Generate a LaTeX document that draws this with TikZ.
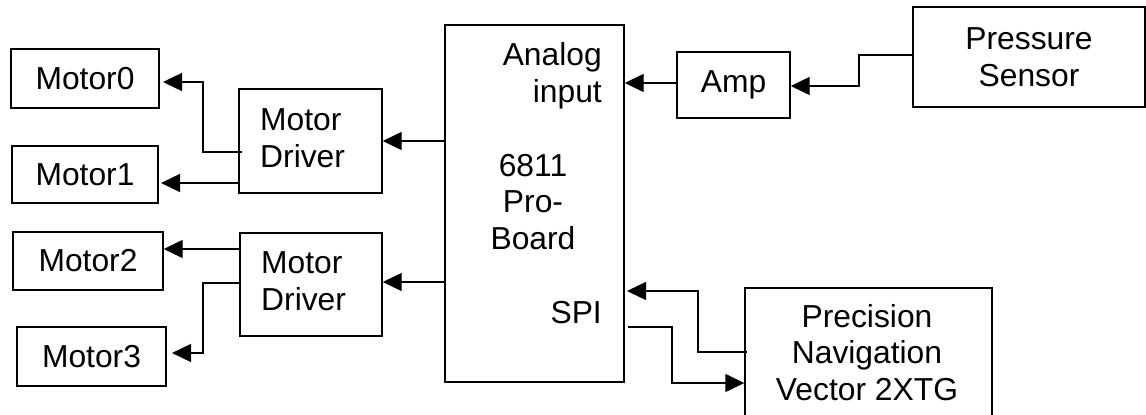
\documentclass[tikz,border=0pt]{standalone}
\usepackage{fontspec}
\setmainfont{Liberation Sans}
\usetikzlibrary{arrows.meta}
\begin{document}
\begin{tikzpicture}[x=1pt,y=-1pt,
  box/.style={draw,line width=1.4pt,inner sep=0pt,align=center},
  lbl/.style={inner sep=0pt},
  wire/.style={line width=1.4pt},
  arr/.style={line width=1.4pt,-{Triangle[length=19pt,width=18pt]}},
  font=\fontsize{31.8}{36.5}\selectfont]
\useasboundingbox (0,0) rectangle (1146,415);

% motors
\node[box,minimum width=148pt,minimum height=59pt] (m0) at (85,78.5) {Motor0};
\node[box,minimum width=146pt,minimum height=57pt] (m1) at (85,174.5) {Motor1};
\node[box,minimum width=150pt,minimum height=58pt] (m2) at (88,261) {Motor2};
\node[box,minimum width=149pt,minimum height=59pt] (m3) at (91.5,356.5) {Motor3};

% motor drivers
\node[box,minimum width=143pt,minimum height=104pt] (md1) at (310.5,141) {};
\node[lbl,align=left,anchor=base west] (md1t) at (260,167) {Motor\\Driver};
\node[box,minimum width=142pt,minimum height=103pt] (md2) at (311,284.5) {};
\node[lbl,align=left,anchor=base west] (md2t) at (261,310) {Motor\\Driver};

% board
\node[box,minimum width=179pt,minimum height=357pt] (brd) at (534.5,203.5) {};
\node[lbl,align=right,anchor=base east] (ain) at (602,102) {Analog\\input};
\node[lbl,align=center,anchor=base] (bname) at (533,249) {6811\\Pro-\\Board};
\node[lbl,anchor=base east] (spi) at (602,323) {SPI};

% amp and sensor
\node[box,minimum width=113pt,minimum height=66pt] (amp) at (733.5,85) {Amp};
\node[box,minimum width=232pt,minimum height=100pt] (sen) at (1029,57) {Pressure\\Sensor};

% navigation
\node[box,minimum width=247pt,minimum height=130pt] (nav) at (868.5,353) {};
\node[lbl,align=center,anchor=base] (navt) at (867,400) {Precision\\Navigation\\Vector 2XTG};

% connectors
\draw[arr] (md1.east -| brd.west) -- (md1.east);
\draw[arr] (brd.west |- 0,282) -- (md2.east |- 0,282);
\draw[arr] (242,152) -- (203,152) -- (203,82) -- (163,82);
\draw[arr] (md1.west |- 0,183) -- (161,183);
\draw[arr] (md2.west |- 0,249) -- (m2.east |- 0,249);
\draw[arr] (md2.west |- 0,283) -- (203,283) -- (203,353) -- (172,353);

\draw[arr] (amp.west |- 0,83) -- (brd.east |- 0,83);
\draw[arr] (sen.west |- 0,55) -- (859,55) -- (859,86) -- (amp.east |- 0,86);

\draw[arr] (747,352) -- (698,352) -- (698,291) -- (627,291);
\draw[arr] (628,327) -- (672,327) -- (672,383) -- (nav.west |- 0,383);
\end{tikzpicture}
\end{document}
